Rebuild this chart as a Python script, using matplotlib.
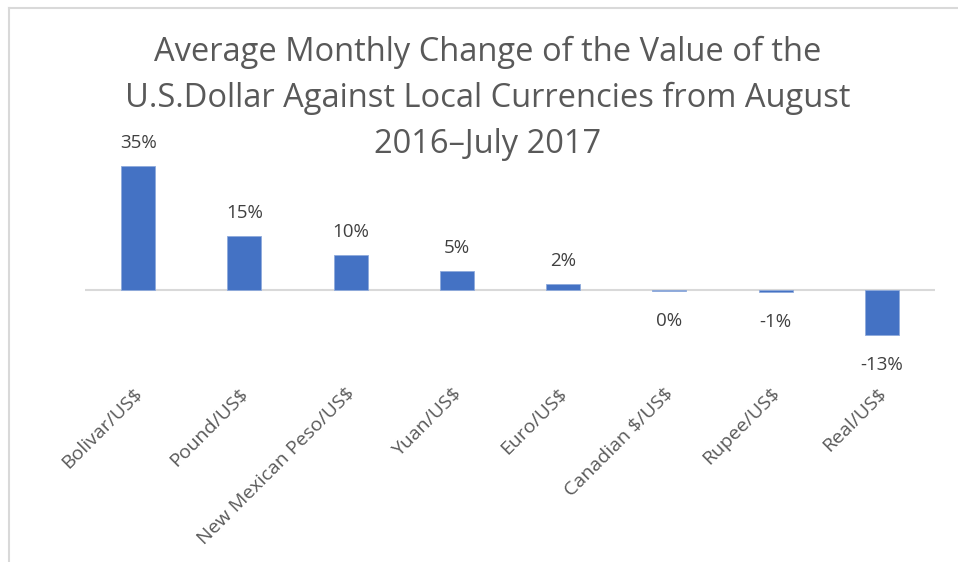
import matplotlib
matplotlib.use("Agg")
import matplotlib.pyplot as plt
from matplotlib.lines import Line2D
from matplotlib.transforms import ScaledTranslation

categories = ["Bolivar/US$", "Pound/US$", "New Mexican Peso/US$", "Yuan/US$",
              "Euro/US$", "Canadian $/US$", "Rupee/US$", "Real/US$"]
values = [0.35, 0.152, 0.099, 0.054, 0.016, -0.002, -0.007, -0.127]
title_lines = ["Average Monthly Change of the Value of the",
               "U.S.Dollar Against Local Currencies from August",
               "2016\u2013July 2017"]

W, H = 958, 562
fig = plt.figure(figsize=(W / 100, H / 100), dpi=100)
font = ["Open Sans", "DejaVu Sans"]

left, right = 85, 935
top_px, bot_px = 148, 361
ax = fig.add_axes([left / W, 1 - bot_px / H, (right - left) / W, (bot_px - top_px) / H])
ax.set_xlim(-0.5, len(categories) - 0.5)
ax.set_ylim(-0.20, 0.40)

x = range(len(categories))
ax.bar(x, values, width=0.32, color="#4472C4", edgecolor="#8FAADC", linewidth=0.6, zorder=2)
ax.axhline(0, color="#D9D9D9", linewidth=1.5, zorder=1)

for xi, v in zip(x, values):
    lbl = f"{round(v * 100):d}%"
    if v >= 0:
        ax.annotate(lbl, (xi, v), xytext=(0, 10), textcoords="offset points",
                    ha="center", va="bottom", fontsize=13.5, color="#404040", family=font)
    else:
        ax.annotate(lbl, (xi, v), xytext=(0, -15), textcoords="offset points",
                    ha="center", va="top", fontsize=13.5, color="#404040", family=font)

for s in ax.spines.values():
    s.set_visible(False)
ax.set_yticks([])
ax.set_xticks(list(x))
ax.set_xticklabels([c.replace("$", r"\$") for c in categories], rotation=45, ha="right",
                   rotation_mode="anchor", fontsize=14, color="#595959", family=font)
ax.tick_params(axis="x", length=0, pad=14)
shift = ScaledTranslation(-5 / 100, -4 / 100, fig.dpi_scale_trans)
for lab in ax.get_xticklabels():
    lab.set_transform(lab.get_transform() + shift)

for line, base in zip(title_lines, [61, 107, 153]):
    fig.text(488 / W, 1 - base / H, line, ha="center", va="baseline", fontsize=23.5,
             color="#595959", family=font)

fig.add_artist(Line2D([8.5 / W, 8.5 / W], [0, 1 - 7.5 / H], transform=fig.transFigure,
                      color="#D9D9D9", linewidth=1.5))
fig.add_artist(Line2D([8.5 / W, 1], [1 - 7.5 / H, 1 - 7.5 / H], transform=fig.transFigure,
                      color="#D9D9D9", linewidth=1.5))

fig.savefig("out.png", dpi=100)
